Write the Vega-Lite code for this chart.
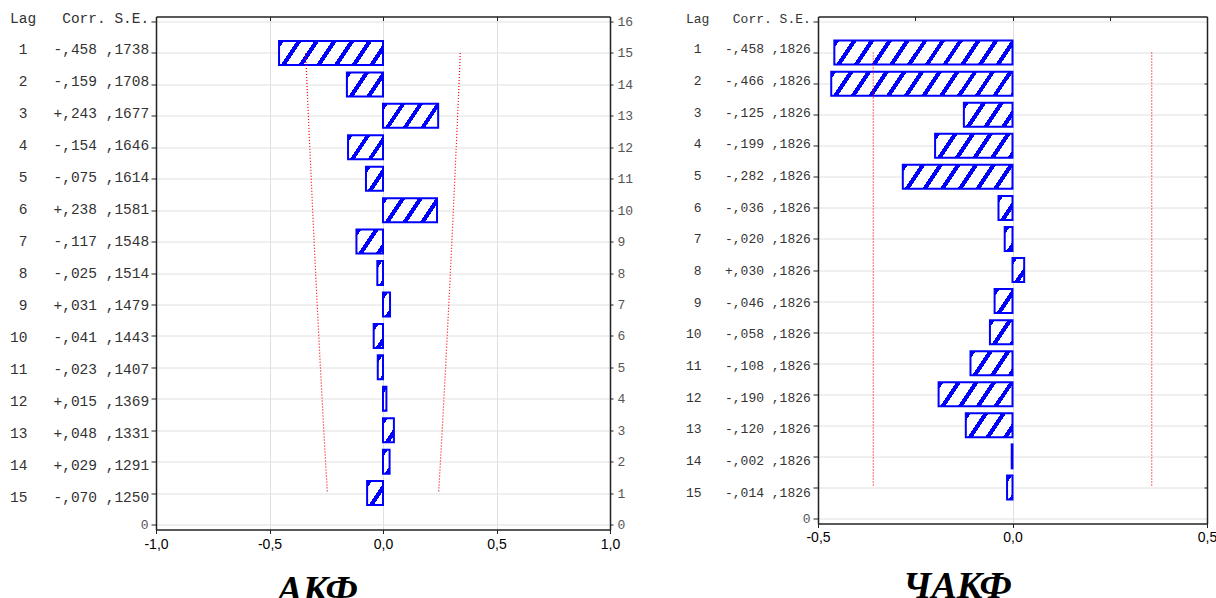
{
  "$schema": "https://vega.github.io/schema/vega-lite/v6.json",
  "padding": {"left": 0, "top": 10.5, "right": 0, "bottom": 0},
  "bounds": "flush",
  "spacing": 15,
  "params": [
    {"name": "stripeStops", "value": [
      {"offset": 0, "color": "#0000ff"}, {"offset": 0.0233, "color": "#0000ff"}, {"offset": 0.0233, "color": "#ffffff"}, {"offset": 0.0833, "color": "#ffffff"},
      {"offset": 0.0833, "color": "#0000ff"}, {"offset": 0.1066, "color": "#0000ff"}, {"offset": 0.1066, "color": "#ffffff"}, {"offset": 0.1667, "color": "#ffffff"},
      {"offset": 0.1667, "color": "#0000ff"}, {"offset": 0.19, "color": "#0000ff"}, {"offset": 0.19, "color": "#ffffff"}, {"offset": 0.25, "color": "#ffffff"},
      {"offset": 0.25, "color": "#0000ff"}, {"offset": 0.2733, "color": "#0000ff"}, {"offset": 0.2733, "color": "#ffffff"}, {"offset": 0.3333, "color": "#ffffff"},
      {"offset": 0.3333, "color": "#0000ff"}, {"offset": 0.3566, "color": "#0000ff"}, {"offset": 0.3566, "color": "#ffffff"}, {"offset": 0.4167, "color": "#ffffff"},
      {"offset": 0.4167, "color": "#0000ff"}, {"offset": 0.44, "color": "#0000ff"}, {"offset": 0.44, "color": "#ffffff"}, {"offset": 0.5, "color": "#ffffff"},
      {"offset": 0.5, "color": "#0000ff"}, {"offset": 0.5233, "color": "#0000ff"}, {"offset": 0.5233, "color": "#ffffff"}, {"offset": 0.5833, "color": "#ffffff"},
      {"offset": 0.5833, "color": "#0000ff"}, {"offset": 0.6066, "color": "#0000ff"}, {"offset": 0.6066, "color": "#ffffff"}, {"offset": 0.6667, "color": "#ffffff"},
      {"offset": 0.6667, "color": "#0000ff"}, {"offset": 0.69, "color": "#0000ff"}, {"offset": 0.69, "color": "#ffffff"}, {"offset": 0.75, "color": "#ffffff"},
      {"offset": 0.75, "color": "#0000ff"}, {"offset": 0.7733, "color": "#0000ff"}, {"offset": 0.7733, "color": "#ffffff"}, {"offset": 0.8333, "color": "#ffffff"},
      {"offset": 0.8333, "color": "#0000ff"}, {"offset": 0.8566, "color": "#0000ff"}, {"offset": 0.8566, "color": "#ffffff"}, {"offset": 0.9167, "color": "#ffffff"},
      {"offset": 0.9167, "color": "#0000ff"}, {"offset": 0.94, "color": "#0000ff"}, {"offset": 0.94, "color": "#ffffff"}, {"offset": 1, "color": "#ffffff"}
    ]}
  ],
  "datasets": {
    "headers": [{"col": "Lag"}, {"col": "Corr."}, {"col": "S.E."}],
    "acf": [
      {"lag": 1, "corr": -0.458, "corrText": "-,458", "seText": ",1738", "lo": -0.3406, "hi": 0.3406},
      {"lag": 2, "corr": -0.159, "corrText": "-,159", "seText": ",1708", "lo": -0.3348, "hi": 0.3348},
      {"lag": 3, "corr": 0.243, "corrText": "+,243", "seText": ",1677", "lo": -0.3287, "hi": 0.3287},
      {"lag": 4, "corr": -0.154, "corrText": "-,154", "seText": ",1646", "lo": -0.3226, "hi": 0.3226},
      {"lag": 5, "corr": -0.075, "corrText": "-,075", "seText": ",1614", "lo": -0.3163, "hi": 0.3163},
      {"lag": 6, "corr": 0.238, "corrText": "+,238", "seText": ",1581", "lo": -0.3099, "hi": 0.3099},
      {"lag": 7, "corr": -0.117, "corrText": "-,117", "seText": ",1548", "lo": -0.3034, "hi": 0.3034},
      {"lag": 8, "corr": -0.025, "corrText": "-,025", "seText": ",1514", "lo": -0.2967, "hi": 0.2967},
      {"lag": 9, "corr": 0.031, "corrText": "+,031", "seText": ",1479", "lo": -0.2899, "hi": 0.2899},
      {"lag": 10, "corr": -0.041, "corrText": "-,041", "seText": ",1443", "lo": -0.2828, "hi": 0.2828},
      {"lag": 11, "corr": -0.023, "corrText": "-,023", "seText": ",1407", "lo": -0.2758, "hi": 0.2758},
      {"lag": 12, "corr": 0.015, "corrText": "+,015", "seText": ",1369", "lo": -0.2683, "hi": 0.2683},
      {"lag": 13, "corr": 0.048, "corrText": "+,048", "seText": ",1331", "lo": -0.2609, "hi": 0.2609},
      {"lag": 14, "corr": 0.029, "corrText": "+,029", "seText": ",1291", "lo": -0.2530, "hi": 0.2530},
      {"lag": 15, "corr": -0.070, "corrText": "-,070", "seText": ",1250", "lo": -0.2450, "hi": 0.2450}
    ],
    "pacf": [
      {"lag": 1, "corr": -0.458, "corrText": "-,458", "seText": ",1826", "lo": -0.3579, "hi": 0.3579},
      {"lag": 2, "corr": -0.466, "corrText": "-,466", "seText": ",1826", "lo": -0.3579, "hi": 0.3579},
      {"lag": 3, "corr": -0.125, "corrText": "-,125", "seText": ",1826", "lo": -0.3579, "hi": 0.3579},
      {"lag": 4, "corr": -0.199, "corrText": "-,199", "seText": ",1826", "lo": -0.3579, "hi": 0.3579},
      {"lag": 5, "corr": -0.282, "corrText": "-,282", "seText": ",1826", "lo": -0.3579, "hi": 0.3579},
      {"lag": 6, "corr": -0.036, "corrText": "-,036", "seText": ",1826", "lo": -0.3579, "hi": 0.3579},
      {"lag": 7, "corr": -0.020, "corrText": "-,020", "seText": ",1826", "lo": -0.3579, "hi": 0.3579},
      {"lag": 8, "corr": 0.030, "corrText": "+,030", "seText": ",1826", "lo": -0.3579, "hi": 0.3579},
      {"lag": 9, "corr": -0.046, "corrText": "-,046", "seText": ",1826", "lo": -0.3579, "hi": 0.3579},
      {"lag": 10, "corr": -0.058, "corrText": "-,058", "seText": ",1826", "lo": -0.3579, "hi": 0.3579},
      {"lag": 11, "corr": -0.108, "corrText": "-,108", "seText": ",1826", "lo": -0.3579, "hi": 0.3579},
      {"lag": 12, "corr": -0.190, "corrText": "-,190", "seText": ",1826", "lo": -0.3579, "hi": 0.3579},
      {"lag": 13, "corr": -0.120, "corrText": "-,120", "seText": ",1826", "lo": -0.3579, "hi": 0.3579},
      {"lag": 14, "corr": -0.002, "corrText": "-,002", "seText": ",1826", "lo": -0.3579, "hi": 0.3579},
      {"lag": 15, "corr": -0.014, "corrText": "-,014", "seText": ",1826", "lo": -0.3579, "hi": 0.3579}
    ]
  },
  "hconcat": [
    {
      "width": 141,
      "height": 513,
      "layer": [
        {
          "data": {"name": "headers"},
          "mark": {"type": "text", "align": "left", "baseline": "middle", "font": "Liberation Mono", "fontSize": 14.5, "color": "#333", "dx": -8.3, "dy": 2},
          "encoding": {
            "x": {"field": "col", "type": "nominal", "scale": {"type": "point", "domain": ["Lag", "Corr.", "S.E."], "padding": 0.3506}, "axis": null},
            "y": {"datum": 0, "type": "quantitative", "scale": {"domain": [0, 16], "reverse": true, "nice": false, "zero": false}, "axis": null},
            "text": {"field": "col"}
          }
        },
        {
          "data": {"name": "acf"},
          "mark": {"type": "text", "align": "right", "baseline": "middle", "font": "Liberation Mono", "fontSize": 14.5, "color": "#333", "dx": 9.1, "dy": 1},
          "encoding": {
            "x": {"datum": "Lag", "type": "nominal", "axis": null},
            "y": {"field": "lag", "type": "quantitative", "axis": null},
            "text": {"field": "lag"}
          }
        },
        {
          "data": {"name": "acf"},
          "mark": {"type": "text", "align": "left", "baseline": "middle", "font": "Liberation Mono", "fontSize": 14.5, "color": "#333", "dx": -17, "dy": 1},
          "encoding": {
            "x": {"datum": "Corr.", "type": "nominal", "axis": null},
            "y": {"field": "lag", "type": "quantitative", "axis": null},
            "text": {"field": "corrText"}
          }
        },
        {
          "data": {"name": "acf"},
          "mark": {"type": "text", "align": "left", "baseline": "middle", "font": "Liberation Mono", "fontSize": 14.5, "color": "#333", "dx": -17, "dy": 1},
          "encoding": {
            "x": {"datum": "S.E.", "type": "nominal", "axis": null},
            "y": {"field": "lag", "type": "quantitative", "axis": null},
            "text": {"field": "seText"}
          }
        }
      ]
    },
    {
      "width": 454,
      "height": 513,
      "data": {"name": "acf"},
      "layer": [
        {
          "mark": {"type": "bar", "orient": "horizontal", "size": 24, "stroke": "#0000ff", "strokeWidth": 2,
            "fill": {"expr": "{gradient: 'linear', x1: 0, y1: 0, x2: abs(datum.corr)*188.9*176.4/(pow(abs(datum.corr)*188.9, 2) + 177.4), y2: 2349.6/(pow(abs(datum.corr)*188.9, 2) + 177.4), stops: stripeStops}"}},
          "encoding": {
            "x": {"field": "corr", "type": "quantitative", "scale": {"domain": [-1, 1], "nice": false, "zero": false},
              "axis": {"orient": "bottom", "values": [-1, -0.5, 0, 0.5, 1], "labelExpr": "replace(replace(format(datum.value, '.1f'), '.', ','), '\u2212', '-')",
                "labelFont": "Liberation Sans", "labelFontSize": 14, "labelColor": "#000", "labelFlush": false, "labelPadding": 4,
                "tickSize": 4, "grid": true,
                "title": "АКФ", "titleFont": "Liberation Serif", "titleFontSize": 38, "titleFontStyle": "italic", "titleFontWeight": "bold", "titleColor": "#000",
                "titleX": 161, "titleY": 72, "titleBaseline": "alphabetic", "titleAlign": "center", "titleAnchor": null}},
            "x2": {"datum": 0},
            "y": {"field": "lag", "type": "quantitative", "scale": {"domain": [0, 16], "reverse": true, "nice": false, "zero": false},
              "axis": {"orient": "left", "values": [0, 1, 2, 3, 4, 5, 6, 7, 8, 9, 10, 11, 12, 13, 14, 15, 16], "labelExpr": "datum.value == 16 ? '0' : ''",
                "labelFont": "Liberation Mono", "labelFontSize": 13, "labelColor": "#555", "labelPadding": 3, "tickSize": 5, "grid": true, "title": null}}
          }
        },
        {
          "mark": {"type": "line", "color": "#ff0000", "strokeDash": [1, 2], "strokeWidth": 1.2},
          "encoding": {
            "x": {"field": "lo", "type": "quantitative",
              "axis": {"orient": "top", "values": [-1, -0.5, 0, 0.5, 1], "labels": false, "tickSize": -4, "grid": false, "title": null}},
            "y": {"field": "lag", "type": "quantitative",
              "axis": {"orient": "right", "values": [0, 1, 2, 3, 4, 5, 6, 7, 8, 9, 10, 11, 12, 13, 14, 15, 16], "labelExpr": "'' + (16 - datum.value)",
                "labelFont": "Liberation Mono", "labelFontSize": 13, "labelColor": "#555", "labelPadding": 4, "tickSize": 3, "grid": false, "title": null}},
            "order": {"field": "lag"}
          }
        },
        {
          "mark": {"type": "line", "color": "#ff0000", "strokeDash": [1, 2], "strokeWidth": 1.2},
          "encoding": {
            "x": {"field": "hi", "type": "quantitative", "axis": null},
            "y": {"field": "lag", "type": "quantitative", "axis": null},
            "order": {"field": "lag"}
          }
        }
      ]
    },
    {
      "width": 178,
      "height": 507,
      "layer": [
        {
          "data": {"name": "headers"},
          "mark": {"type": "text", "align": "left", "baseline": "middle", "font": "Liberation Mono", "fontSize": 13, "color": "#333", "dx": 18.8, "dy": 2.5},
          "encoding": {
            "x": {"field": "col", "type": "nominal", "scale": {"type": "point", "domain": ["Lag", "Corr.", "S.E."], "padding": 0.902}, "axis": null},
            "y": {"datum": 0, "type": "quantitative", "scale": {"domain": [0, 16], "reverse": true, "nice": false, "zero": false}, "axis": null},
            "text": {"field": "col"}
          }
        },
        {
          "data": {"name": "pacf"},
          "mark": {"type": "text", "align": "right", "baseline": "middle", "font": "Liberation Mono", "fontSize": 13, "color": "#333", "dx": 34.4, "dy": 1},
          "encoding": {
            "x": {"datum": "Lag", "type": "nominal", "axis": null},
            "y": {"field": "lag", "type": "quantitative", "axis": null},
            "text": {"field": "lag"}
          }
        },
        {
          "data": {"name": "pacf"},
          "mark": {"type": "text", "align": "left", "baseline": "middle", "font": "Liberation Mono", "fontSize": 13, "color": "#333", "dx": 11, "dy": 1},
          "encoding": {
            "x": {"datum": "Corr.", "type": "nominal", "axis": null},
            "y": {"field": "lag", "type": "quantitative", "axis": null},
            "text": {"field": "corrText"}
          }
        },
        {
          "data": {"name": "pacf"},
          "mark": {"type": "text", "align": "left", "baseline": "middle", "font": "Liberation Mono", "fontSize": 13, "color": "#333", "dx": 11, "dy": 1},
          "encoding": {
            "x": {"datum": "S.E.", "type": "nominal", "axis": null},
            "y": {"field": "lag", "type": "quantitative", "axis": null},
            "text": {"field": "seText"}
          }
        }
      ]
    },
    {
      "width": 389,
      "height": 507,
      "data": {"name": "pacf"},
      "layer": [
        {
          "mark": {"type": "bar", "orient": "horizontal", "size": 24, "stroke": "#0000ff", "strokeWidth": 2,
            "fill": {"expr": "{gradient: 'linear', x1: 0, y1: 0, x2: abs(datum.corr)*323.2*176.4/(pow(abs(datum.corr)*323.2, 2) + 177.4), y2: 2349.6/(pow(abs(datum.corr)*323.2, 2) + 177.4), stops: stripeStops}"}},
          "encoding": {
            "x": {"field": "corr", "type": "quantitative", "scale": {"domain": [-0.5, 0.5], "nice": false, "zero": false},
              "axis": {"orient": "bottom", "values": [-0.5, 0, 0.5], "labelExpr": "replace(replace(format(datum.value, '.1f'), '.', ','), '\u2212', '-')",
                "labelFont": "Liberation Sans", "labelFontSize": 14, "labelColor": "#000", "labelFlush": false, "labelPadding": 3,
                "tickSize": 4, "grid": true,
                "title": "ЧАКФ", "titleFont": "Liberation Serif", "titleFontSize": 38, "titleFontStyle": "italic", "titleFontWeight": "bold", "titleColor": "#000",
                "titleX": 139, "titleY": 74, "titleBaseline": "alphabetic", "titleAlign": "center", "titleAnchor": null}},
            "x2": {"datum": 0},
            "y": {"field": "lag", "type": "quantitative", "scale": {"domain": [0, 16], "reverse": true, "nice": false, "zero": false},
              "axis": {"orient": "left", "values": [0, 1, 2, 3, 4, 5, 6, 7, 8, 9, 10, 11, 12, 13, 14, 15, 16], "labelExpr": "datum.value == 16 ? '0' : ''",
                "labelFont": "Liberation Mono", "labelFontSize": 13, "labelColor": "#555", "labelPadding": 3, "tickSize": 5, "grid": true, "title": null}}
          }
        },
        {
          "mark": {"type": "line", "color": "#ff0000", "strokeDash": [1, 2], "strokeWidth": 1.2},
          "encoding": {
            "x": {"field": "lo", "type": "quantitative",
              "axis": {"orient": "top", "values": [-0.5, -0.25, 0, 0.25, 0.5], "labels": false, "tickSize": -4, "grid": false, "title": null}},
            "y": {"field": "lag", "type": "quantitative",
              "axis": {"orient": "right", "values": [1, 2, 3, 4, 5, 6, 7, 8, 9, 10, 11, 12, 13, 14, 15], "labels": false, "tickSize": -3, "grid": false, "title": null}},
            "order": {"field": "lag"}
          }
        },
        {
          "mark": {"type": "line", "color": "#ff0000", "strokeDash": [1, 2], "strokeWidth": 1.2},
          "encoding": {
            "x": {"field": "hi", "type": "quantitative", "axis": null},
            "y": {"field": "lag", "type": "quantitative", "axis": null},
            "order": {"field": "lag"}
          }
        }
      ]
    }
  ],
  "resolve": {"scale": {"x": "independent", "y": "independent"}},
  "config": {
    "view": {"stroke": null},
    "axis": {"domainColor": "#222", "domainWidth": 1.5, "tickColor": "#222", "gridColor": "#e0e0e0", "labelFlush": false}
  }
}
